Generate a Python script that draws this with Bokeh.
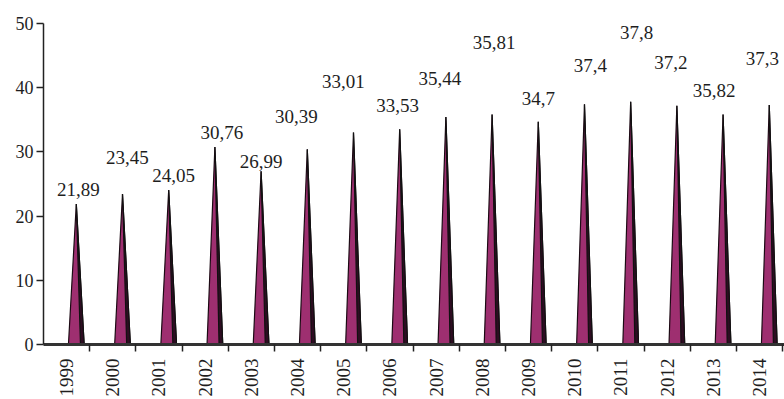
import math
from bokeh.plotting import figure
from bokeh.models import Range1d, FixedTicker, ColumnDataSource
from bokeh.core.properties import value
from bokeh.embed import file_html
from bokeh.resources import INLINE

# Annual values, 1999-2014
years = ["1999", "2000", "2001", "2002", "2003", "2004", "2005", "2006",
         "2007", "2008", "2009", "2010", "2011", "2012", "2013", "2014"]
values = [21.89, 23.45, 24.05, 30.76, 26.99, 30.39, 33.01, 33.53,
          35.44, 35.81, 34.7, 37.4, 37.8, 37.2, 35.82, 37.3]

# Screen offsets (px) of each value label from the tip of its cone
label_dx = [2, 5, 5, 7, 0, -11, -10, -2, -6, 2, 0, 6, 6, -6, -9, -7]
label_dy = [-14, -36, -15, -15, -10, -33, -51, -24, -38, -72, -23, -39, -69, -43, -24, -47]

SERIF = "Liberation Serif"
CONE_SHIFT = 0.71      # cone axis position inside each category slot
CONE_HALF = 0.17       # half width of the cone base, in category units

n = len(years)
centers = [i + 0.5 for i in range(n)]
tips = [i + CONE_SHIFT for i in range(n)]

p = figure(width=784, height=399,
           x_range=Range1d(0, 16.04), y_range=Range1d(0, 50),
           output_backend="svg", toolbar_location=None,
           min_border_left=43, min_border_right=0,
           min_border_top=23, min_border_bottom=52)
p.outline_line_color = None
p.background_fill_color = "white"
p.border_fill_color = "white"
p.xgrid.visible = False
p.ygrid.visible = False

# cones
cone_xs = [[t - CONE_HALF, t, t + CONE_HALF] for t in tips]
cone_ys = [[0, v, 0] for v in values]
p.patches(cone_xs, cone_ys, fill_color="#9e2f70", line_color="#1c0a14",
          line_width=1.2)
# shaded right flank of each cone
shade_xs = [[t + 0.09, t, t + CONE_HALF] for t in tips]
p.patches(shade_xs, cone_ys, fill_color="#2e0c22", line_color="#111111",
          line_width=1.2)

# value labels
lab = ColumnDataSource(dict(
    x=tips, y=values,
    text=[str(v).replace(".", ",") for v in values],
    dx=label_dx, dy=label_dy))
p.text(x="x", y="y", text="text", x_offset="dx", y_offset="dy", source=lab,
       text_font=value(SERIF), text_font_size="19px", text_color="#1e1e1e",
       text_align="center", text_baseline="middle")

# x axis: year names at slot centres, tick marks at slot boundaries
xa = p.xaxis[0]
xa.ticker = FixedTicker(ticks=centers, minor_ticks=list(range(1, n + 1)))
xa.major_label_overrides = {c: y for c, y in zip(centers, years)}
xa.major_label_orientation = math.pi / 2
xa.major_tick_line_color = None
xa.major_tick_out = 0
xa.major_tick_in = 0
xa.minor_tick_out = 7
xa.minor_tick_in = 0
xa.minor_tick_line_color = "#222222"
xa.minor_tick_line_width = 1.5
xa.axis_line_color = "#333333"
xa.axis_line_width = 3
xa.major_label_standoff = 7
xa.major_label_text_font = SERIF
xa.major_label_text_font_size = "19px"
xa.major_label_text_color = "#1e1e1e"

# y axis
ya = p.yaxis[0]
ya.ticker = FixedTicker(ticks=[0, 10, 20, 30, 40, 50])
ya.minor_tick_line_color = None
ya.major_tick_out = 7
ya.major_tick_in = 0
ya.major_tick_line_width = 1.5
ya.major_tick_line_color = "#222222"
ya.axis_line_color = "#222222"
ya.axis_line_width = 1.5
ya.major_label_standoff = 3
ya.major_label_text_font = SERIF
ya.major_label_text_font_size = "18px"
ya.major_label_text_color = "#1e1e1e"

open("out.html", "w").write(file_html(p, INLINE))
